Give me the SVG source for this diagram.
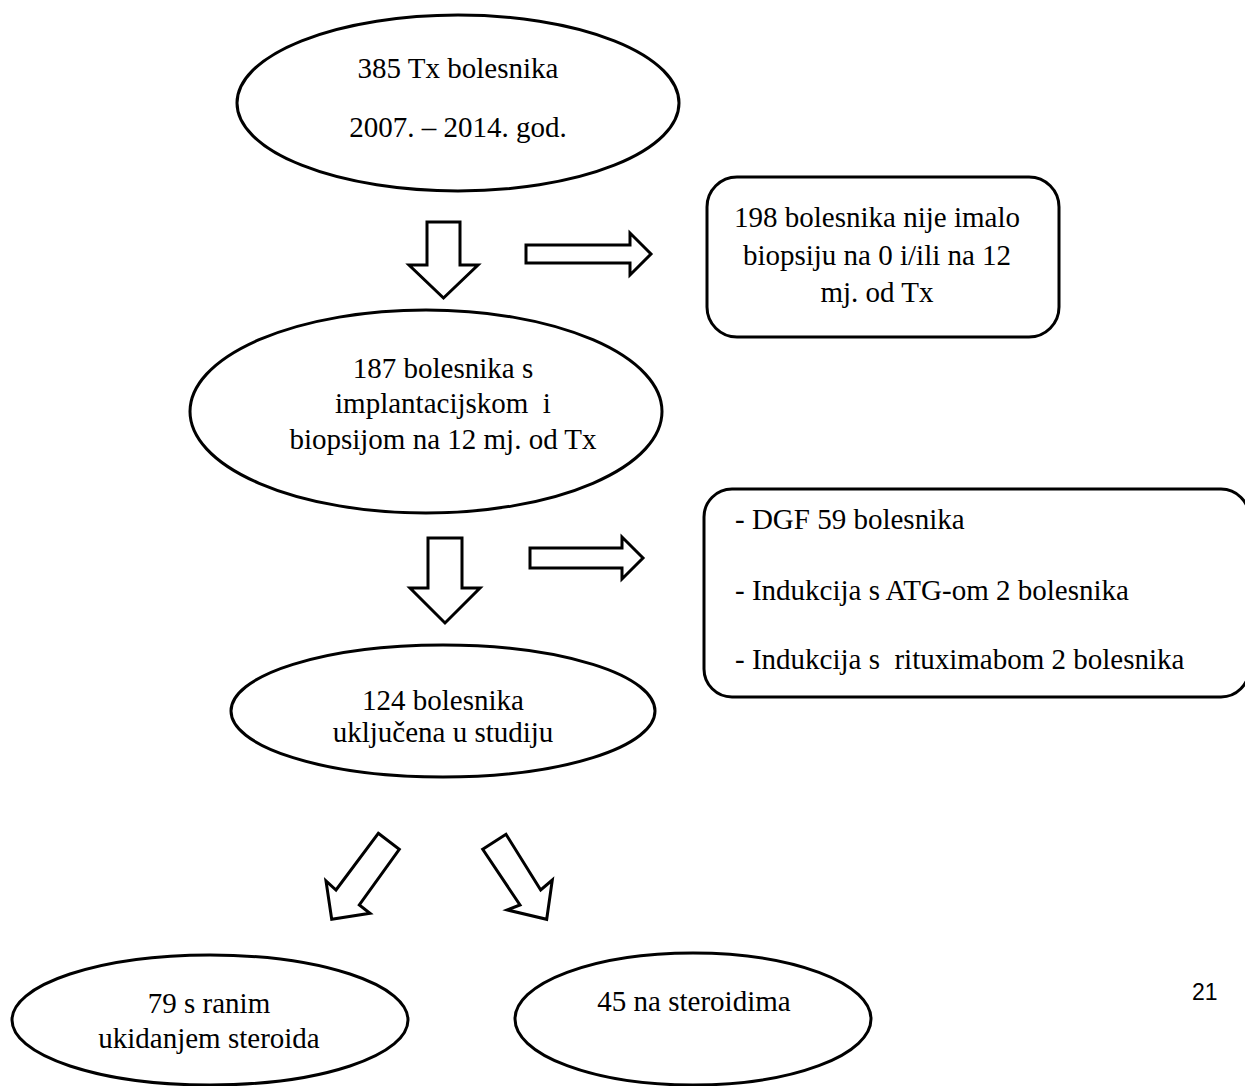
<svg xmlns="http://www.w3.org/2000/svg" width="1245" height="1086" viewBox="0 0 1245 1086">
<style>
.shape{fill:#fff;stroke:#000;stroke-width:3}
.arrow{fill:#fff;stroke:#000;stroke-width:3;stroke-linejoin:miter}
.t{font-family:"Liberation Serif","Times New Roman",serif;font-size:29px;fill:#000;white-space:pre}
.c{text-anchor:middle}
.pg{font-family:"Liberation Sans",Arial,sans-serif;font-size:23px;fill:#000}
</style>
<rect width="1245" height="1086" fill="#fff"/>
<g id="n1">
<ellipse class="shape" cx="458" cy="103" rx="221" ry="88"/>
<text class="t c" x="458" y="78">385 Tx bolesnika</text>
<text class="t c" x="458" y="137">2007. – 2014. god.</text>
</g>
<g id="n2">
<rect class="shape" x="707" y="177" width="352" height="160" rx="30" ry="30"/>
<text class="t c" x="877" y="227">198 bolesnika nije imalo</text>
<text class="t c" x="877" y="265">biopsiju na 0 i/ili na 12</text>
<text class="t c" x="877" y="302">mj. od Tx</text>
</g>
<g id="n3">
<ellipse class="shape" cx="426" cy="411.5" rx="236" ry="101.5"/>
<text class="t c" x="443" y="378">187 bolesnika s</text>
<text class="t c" x="443" y="413">implantacijskom  i</text>
<text class="t c" x="443" y="449">biopsijom na 12 mj. od Tx</text>
</g>
<g id="n4">
<rect class="shape" x="704" y="489" width="545" height="208" rx="28" ry="28"/>
<text class="t" x="735" y="529">- DGF 59 bolesnika</text>
<text class="t" x="735" y="600">- Indukcija s ATG-om 2 bolesnika</text>
<text class="t" x="735" y="669">- Indukcija s  rituximabom 2 bolesnika</text>
</g>
<g id="n5">
<ellipse class="shape" cx="443" cy="711" rx="212" ry="66"/>
<text class="t c" x="443" y="710">124 bolesnika</text>
<text class="t c" x="443" y="742">uključena u studiju</text>
</g>
<g id="n6">
<ellipse class="shape" cx="210" cy="1020" rx="198" ry="65"/>
<text class="t c" x="209" y="1013">79 s ranim</text>
<text class="t c" x="209" y="1048">ukidanjem steroida</text>
</g>
<g id="n7">
<ellipse class="shape" cx="693" cy="1019" rx="178" ry="66"/>
<text class="t c" x="694" y="1011">45 na steroidima</text>
</g>
<g id="connectors">
<polygon class="arrow" points="427,222 460,222 460,265 478,265 443.5,298 409,265 427,265"/>
<polygon class="arrow" points="526,245 630,245 630,233 651,254 630,275 630,263 526,263"/>
<polygon class="arrow" points="428,538 462,538 462,588 480,588 445,623 410,588 428,588"/>
<polygon class="arrow" points="530,548 622,548 622,537 643,558 622,579 622,568 530,568"/>
<polygon class="arrow" points="378.3,833.3 399.3,849.3 359.3,905 370,913.3 331.7,919.3 326,881 336,890"/>
<polygon class="arrow" points="482.7,849.3 506,834.3 540.7,890 552.3,880 546.7,919.3 507.3,910 520,905"/>
</g>
<text class="pg" x="1192" y="1000">21</text>
</svg>
